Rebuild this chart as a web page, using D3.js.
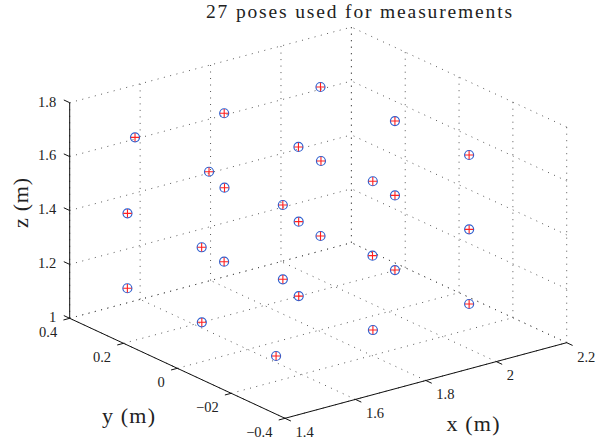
<!DOCTYPE html>
<html>
<head>
<meta charset="utf-8">
<script src="https://cdn.jsdelivr.net/npm/d3@7"></script>
<style>
  html, body { margin: 0; padding: 0; background: #fff; }
  svg { display: block; }
  text { font-family: "Liberation Serif", "DejaVu Serif", serif; fill: #222; }
</style>
</head>
<body>
<svg id="chart" width="595" height="444"></svg>
<script>
// ---- data (metres) ----
const titleText = "27 poses used for measurements";
const poseX = [1.495, 1.497, 1.772, 1.500, 1.773, 2.045, 1.775, 2.047, 2.049,
               1.493, 1.495, 1.767, 1.517, 1.769, 2.044, 1.770, 2.044, 2.046,
               1.519, 1.519, 1.773, 1.523, 1.776, 2.048, 1.777, 2.050, 2.052];
const poseY = [0.310, 0.036, 0.313, -0.236, 0.037, 0.312, -0.236, 0.038, -0.235,
               0.307, 0.034, 0.305, -0.239, 0.032, 0.309, -0.241, 0.034, -0.239,
               0.313, 0.038, 0.314, -0.231, 0.042, 0.316, -0.233, 0.042, -0.231];
const poseZ = [1.12, 1.12, 1.12, 1.12, 1.12, 1.12, 1.12, 1.12, 1.12,
               1.40, 1.40, 1.40, 1.40, 1.40, 1.40, 1.40, 1.40, 1.40,
               1.67, 1.67, 1.67, 1.67, 1.67, 1.67, 1.67, 1.67, 1.67];
const xTicks = [1.4, 1.6, 1.8, 2.0, 2.2];
const xTickLabels = ["1.4", "1.6", "1.8", "2", "2.2"];
const yTicks = [-0.4, -0.2, 0, 0.2, 0.4];
const yTickLabels = ["\u22120.4", "\u221202", "0", "0.2", "0.4"];
const zTicks = [1, 1.2, 1.4, 1.6, 1.8];
const zTickLabels = ["1", "1.2", "1.4", "1.6", "1.8"];

// ---- 3D orthographic projection built on d3 scales ----
const xS = d3.scaleLinear().domain([1.4, 2.2]).range([0, 1]);
const yS = d3.scaleLinear().domain([-0.4, 0.4]).range([0, 1]);
const zS = d3.scaleLinear().domain([1, 1.8]).range([0, 1]);
const O = [285, 418.3], EX = [281.7, -75.6], EY = [-215.3, -100], EZ = [0, -215.6];
function P(x, y, z) {
  const u = xS(x), v = yS(y), w = zS(z);
  return [O[0] + u * EX[0] + v * EY[0] + w * EZ[0],
          O[1] + u * EX[1] + v * EY[1] + w * EZ[1]];
}
const [x0, x1] = xS.domain(), [y0, y1] = yS.domain(), [z0, z1] = zS.domain();

const svg = d3.select("#chart");
const line = d3.line();

// ---- grid (dotted, on the three back planes) ----
const grid = svg.append("g").attr("fill", "none").attr("stroke", "#444")
  .attr("stroke-width", 0.9).attr("stroke-dasharray", "1 5.5");
const segs = [];
xTicks.forEach(x => { segs.push([P(x, y0, z0), P(x, y1, z0)]); segs.push([P(x, y1, z0), P(x, y1, z1)]); });
yTicks.forEach(y => { segs.push([P(x0, y, z0), P(x1, y, z0)]); segs.push([P(x1, y, z0), P(x1, y, z1)]); });
zTicks.forEach(z => { segs.push([P(x0, y1, z), P(x1, y1, z)]); segs.push([P(x1, y0, z), P(x1, y1, z)]); });
grid.selectAll("path").data(segs).join("path").attr("d", d => line(d));

// ---- axes ----
const ax = svg.append("g").attr("stroke", "#111").attr("stroke-width", 1).attr("fill", "none");
ax.append("path").attr("d", line([P(x0, y1, z0), P(x0, y1, z1)]));   // z axis
ax.append("path").attr("d", line([P(x0, y1, z0), P(x0, y0, z0)]));   // y axis
ax.append("path").attr("d", line([P(x0, y0, z0), P(x1, y0, z0)]));   // x axis
const TL = 6.5;
function unit(v) { const n = Math.hypot(v[0], v[1]); return [v[0] / n, v[1] / n]; }
const uY = unit(EY), uX = unit(EX);
zTicks.forEach(z => { const p = P(x0, y1, z); ax.append("path").attr("d", line([p, [p[0] + uY[0] * TL, p[1] + uY[1] * TL]])); });
yTicks.forEach(y => { const p = P(x0, y, z0); ax.append("path").attr("d", line([p, [p[0] - uX[0] * TL, p[1] - uX[1] * TL]])); });
xTicks.forEach(x => { const p = P(x, y0, z0); ax.append("path").attr("d", line([p, [p[0] - uY[0] * TL, p[1] - uY[1] * TL]])); });

// ---- tick labels ----
const tl = svg.append("g").attr("font-size", 14.5);
zTicks.forEach((z, i) => { const p = P(x0, y1, z);
  tl.append("text").attr("x", p[0] - 13.5).attr("y", p[1] + 3.8).attr("text-anchor", "end").text(zTickLabels[i]); });
yTicks.forEach((y, i) => { const p = P(x0, y, z0);
  tl.append("text").attr("x", p[0] - 12.5).attr("y", p[1] + 18.3).attr("text-anchor", "end").text(yTickLabels[i]); });
xTicks.forEach((x, i) => { const p = P(x, y0, z0);
  tl.append("text").attr("x", p[0] + 10.5).attr("y", p[1] + 18.8).attr("text-anchor", "start").text(xTickLabels[i]); });

// ---- axis labels & title ----
svg.append("text").attr("x", 359).attr("y", 18).attr("text-anchor", "middle")
  .attr("font-size", 19.5).attr("textLength", 306).attr("lengthAdjust", "spacing").text(titleText);
svg.append("text").attr("x", 128.5).attr("y", 422.5).attr("text-anchor", "middle")
  .attr("font-size", 22).attr("textLength", 53).attr("lengthAdjust", "spacing").text("y (m)");
svg.append("text").attr("x", 473).attr("y", 430.5).attr("text-anchor", "middle")
  .attr("font-size", 22).attr("textLength", 53).attr("lengthAdjust", "spacing").text("x (m)");
svg.append("text").attr("transform", "translate(27.5,203) rotate(-90)").attr("text-anchor", "middle")
  .attr("font-size", 22).attr("textLength", 50).attr("lengthAdjust", "spacing").text("z (m)");

// ---- markers ----
const pts = poseX.map((x, i) => P(x, poseY[i], poseZ[i]));
const mk = svg.append("g");
mk.selectAll("circle").data(pts).join("circle")
  .attr("cx", d => d[0]).attr("cy", d => d[1]).attr("r", 4.5)
  .attr("fill", "none").attr("stroke", "#2f5fcf").attr("stroke-width", 1.2);
const arm = 4.2;
mk.selectAll("path.plus").data(pts).join("path").attr("class", "plus")
  .attr("d", d => `M${d[0] - arm},${d[1]}H${d[0] + arm}M${d[0]},${d[1] - arm}V${d[1] + arm}`)
  .attr("stroke", "#ff2020").attr("stroke-width", 1.1).attr("fill", "none");
</script>
</body>
</html>
